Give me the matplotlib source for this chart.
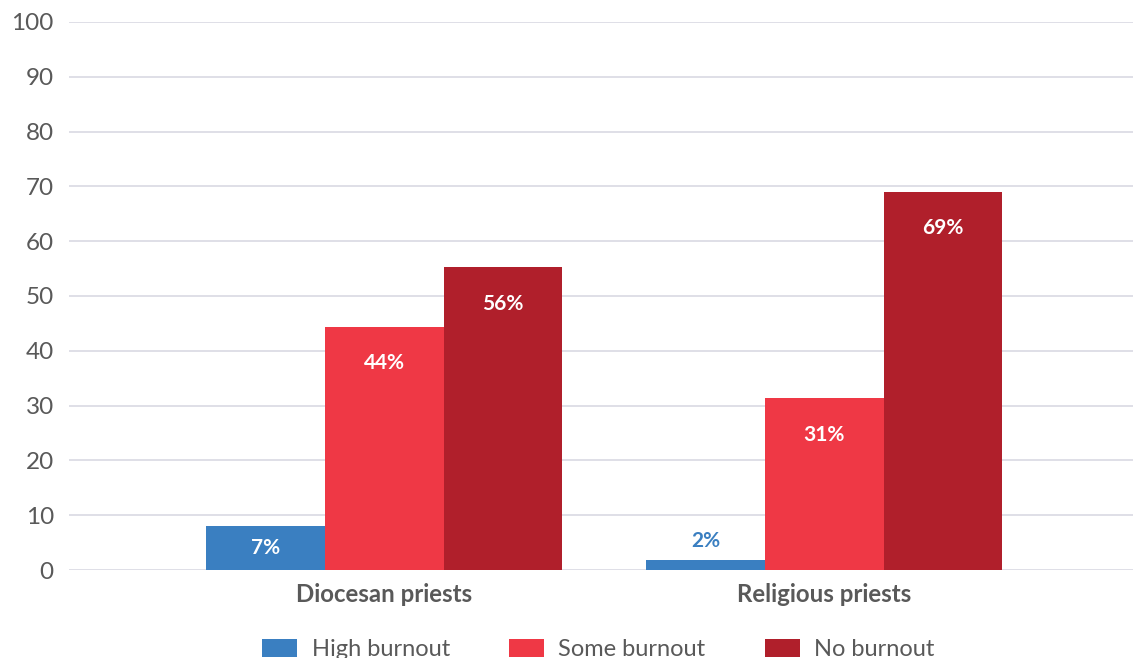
import numpy as np
import matplotlib.pyplot as plt

plt.rcParams['font.family'] = ['Lato', 'DejaVu Sans']

groups = ['Diocesan priests', 'Religious priests']
series = ['High burnout', 'Some burnout', 'No burnout']
values = [[8, 1.8], [44.3, 31.3], [55.2, 69.0]]
labels = [['7%', '2%'], ['44%', '31%'], ['56%', '69%']]
colors = ['#3A7FC1', '#EF3845', '#B01F2B']

fig = plt.figure(figsize=(11.33, 6.58), dpi=100)
ax = fig.add_axes([0.061, 0.1337, 0.939, 0.833])

x = np.arange(len(groups))
w = 0.27
for i, s in enumerate(series):
    xs = x + (i - 1) * w
    ax.bar(xs, values[i], width=w, color=colors[i], label=s, zorder=3)
    for xi, v, lab in zip(xs, values[i], labels[i]):
        if v < 4:
            # small bar: label above in series colour
            ax.annotate(lab, (xi, v), xytext=(0, 14), textcoords='offset points',
                        ha='center', va='center', fontsize=15, fontweight='bold',
                        color=colors[i])
        elif v < 12:
            ax.text(xi, v / 2, lab, ha='center', va='center', fontsize=15,
                    fontweight='bold', color='white', zorder=4)
        else:
            ax.annotate(lab, (xi, v), xytext=(0, -26), textcoords='offset points',
                        ha='center', va='center', fontsize=15, fontweight='bold',
                        color='white', zorder=4)

ax.set_xlim(-0.716, 1.702)
ax.set_ylim(0, 100)
ax.set_yticks(np.arange(0, 101, 10))
ax.yaxis.grid(True, color='#D9D9E3', linewidth=1.2, zorder=0)
ax.set_axisbelow(True)
for sp in ax.spines.values():
    sp.set_visible(False)
ax.tick_params(axis='y', length=0, pad=11, labelsize=17.5, labelcolor='#595959')
ax.set_xticks(x)
ax.set_xticklabels(groups, fontsize=17.3, fontweight='bold', color='#595959')
ax.tick_params(axis='x', length=0, pad=9)

fig.legend(loc='lower center', bbox_to_anchor=(0.528, -0.036), ncol=3, frameon=False,
           fontsize=17, labelcolor='#595959', handlelength=1.5, handleheight=0.8,
           handletextpad=0.6, columnspacing=2.5)

fig.savefig('out.png', dpi=100)
